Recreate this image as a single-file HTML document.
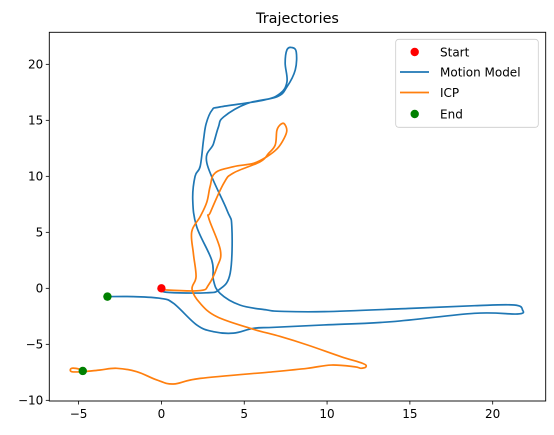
<!DOCTYPE html>
<html><head><meta charset="utf-8"><style>
body{margin:0;background:#fff;}
svg{display:block;font-family:"DejaVu Sans","Liberation Sans",sans-serif;}
</style></head><body>
<svg id="chart" width="554" height="435" viewBox="0 0 554 435" xmlns="http://www.w3.org/2000/svg">
<rect width="554" height="435" fill="#fff"/>
<text x="297.5" y="23" font-size="14.4" text-anchor="middle">Trajectories</text>
<g id="plot"></g>
<g id="axes"></g>
<g id="legend">
<rect x="395.7" y="39.3" width="142.6" height="88" rx="3" fill="#fff" fill-opacity="0.8" stroke="#ccc" stroke-width="0.8"/>
<g><circle cx="414.7" cy="52" r="4.2" fill="red"/><text x="440" y="56.5" font-size="12">Start</text></g>
<g><line x1="400" y1="72" x2="429" y2="72" stroke="#1f77b4" stroke-width="1.7"/><text x="440" y="76.5" font-size="12">Motion Model</text></g>
<g><line x1="400" y1="92.5" x2="429" y2="92.5" stroke="#ff7f0e" stroke-width="1.7"/><text x="440" y="97" font-size="12">ICP</text></g>
<g><circle cx="414.7" cy="114" r="4.2" fill="green"/><text x="440" y="118.5" font-size="12">End</text></g>
</g>
</svg>
<script>
const xTicks=[-5,0,5,10,15,20];
const yTicks=[-10,-5,0,5,10,15,20];
const motionX=[0,0.3,2.7,3.5,4.15,4.25,3.95,2.74,3.14,3.44,3.75,5.16,6.97,7.58,8.08,8.14,7.88,7.58,7.47,7.58,7.17,6.16,3.55,3.05,2.7,2.54,2.34,2.03,1.89,2.13,3.04,3.14,3.54,4.75,6.36,7.17,9.83,14.86,18.9,21.3,21.8,21.5,18.9,13.9,9.83,6.81,5.56,4.35,3.14,2.13,0.73,-0.08,-1.69,-3.26];
const motionY=[0,-0.35,-0.4,-0.1,1.34,5.5,7.0,11.2,12.9,14.4,15.3,16.5,17.1,18.0,19.5,21.1,21.5,21.3,20.1,18.45,17.4,16.8,16.2,15.9,14.7,13.24,10.9,10.0,7.9,5.5,2.5,0.74,-0.45,-1.5,-1.93,-2.05,-2.08,-1.8,-1.55,-1.49,-1.93,-2.29,-2.23,-2.98,-3.27,-3.48,-3.57,-4.0,-3.87,-3.27,-1.34,-0.89,-0.74,-0.74];
const icpX=[0,0.32,2.34,2.84,3.36,3.56,2.86,2.96,3.77,4.35,5.96,6.47,6.87,6.97,7.17,7.41,7.57,7.41,7.01,6.36,5.56,4.35,3.24,2.94,2.74,2.34,1.83,1.93,2.09,1.85,2.34,3.34,5.36,7.17,8.82,10.84,12.15,12.35,12.05,11.65,10.25,8.82,6.81,2.34,0.73,-0.28,-1.49,-2.7,-3.7,-4.71,-5.42,-5.42,-4.91,-4.75];
const icpY=[0,-0.15,-0.2,0.3,1.9,3.4,6.25,6.8,9.4,10.3,11.3,12.05,12.8,14.1,14.6,14.7,14.1,13.4,12.5,11.75,11.16,10.86,10.3,9.1,7.7,6.4,5.06,3.1,1.04,-0.09,-1.34,-2.53,-3.57,-4.3,-5.06,-6.1,-6.7,-7.0,-7.14,-7.0,-6.85,-7.14,-7.44,-8.04,-8.54,-8.18,-7.44,-7.14,-7.29,-7.44,-7.44,-7.14,-7.23,-7.38];
const startPt=[0,0];
const endMotion=[-3.26,-0.74];
const endIcp=[-4.75,-7.38];

const L=49.3,R=545.7,T=32.3,B=401;
const xMin=-6.77,xMax=23.2,yMin=-10.06,yMax=22.86;
const sx=v=>L+(v-xMin)/(xMax-xMin)*(R-L);
const sy=v=>B-(v-yMin)/(yMax-yMin)*(B-T);
const NS="http://www.w3.org/2000/svg";
const plot=document.getElementById('plot');
const axes=document.getElementById('axes');
function mk(tag,attrs,parent){const e=document.createElementNS(NS,tag);for(const k in attrs)e.setAttribute(k,attrs[k]);parent.appendChild(e);return e;}

function path(xs,ys){
  const p=xs.map((x,i)=>[sx(x),sy(ys[i])]);
  let d='M'+p[0][0].toFixed(2)+' '+p[0][1].toFixed(2);
  const k=0.18;
  for(let i=0;i<p.length-1;i++){
    const p0=p[Math.max(0,i-1)],p1=p[i],p2=p[i+1],p3=p[Math.min(p.length-1,i+2)];
    const c1=[p1[0]+(p2[0]-p0[0])*k,p1[1]+(p2[1]-p0[1])*k];
    const c2=[p2[0]-(p3[0]-p1[0])*k,p2[1]-(p3[1]-p1[1])*k];
    d+=' C'+c1[0].toFixed(2)+' '+c1[1].toFixed(2)+' '+c2[0].toFixed(2)+' '+c2[1].toFixed(2)+' '+p2[0].toFixed(2)+' '+p2[1].toFixed(2);
  }
  return d;
}
const pm=mk('path',{d:path(motionX,motionY),fill:'none',stroke:'#1f77b4','stroke-width':1.7,'stroke-linejoin':'round'},plot);


const pi=mk('path',{d:path(icpX,icpY),fill:'none',stroke:'#ff7f0e','stroke-width':1.7,'stroke-linejoin':'round'},plot);


const cs=mk('circle',{cx:sx(startPt[0]),cy:sy(startPt[1]),r:4.2,fill:'red'},plot);


const ce1=mk('circle',{cx:sx(endMotion[0]),cy:sy(endMotion[1]),r:4.2,fill:'green'},plot);


const ce2=mk('circle',{cx:sx(endIcp[0]),cy:sy(endIcp[1]),r:4.2,fill:'green'},plot);



const frame=mk('rect',{x:L,y:T,width:R-L,height:B-T,fill:'none',stroke:'#000','stroke-width':0.9},axes);


xTicks.forEach(t=>{
  const x=sx(t);
  const g=mk('g',{},axes);
  
  
  mk('line',{x1:x,y1:B,x2:x,y2:B+3.5,stroke:'#000','stroke-width':0.8},g);
  const tx=mk('text',{x:x,y:B+17,'font-size':12,'text-anchor':'middle'},g);
  tx.textContent=t<0?'\u2212'+Math.abs(t):String(t);
});
yTicks.forEach(t=>{
  const y=sy(t);
  const g=mk('g',{},axes);
  
  
  mk('line',{x1:L-3.5,y1:y,x2:L,y2:y,stroke:'#000','stroke-width':0.8},g);
  const tx=mk('text',{x:L-6,y:y+4.3,'font-size':12,'text-anchor':'end'},g);
  tx.textContent=t<0?'\u2212'+Math.abs(t):String(t);
});
</script>
</body></html>
